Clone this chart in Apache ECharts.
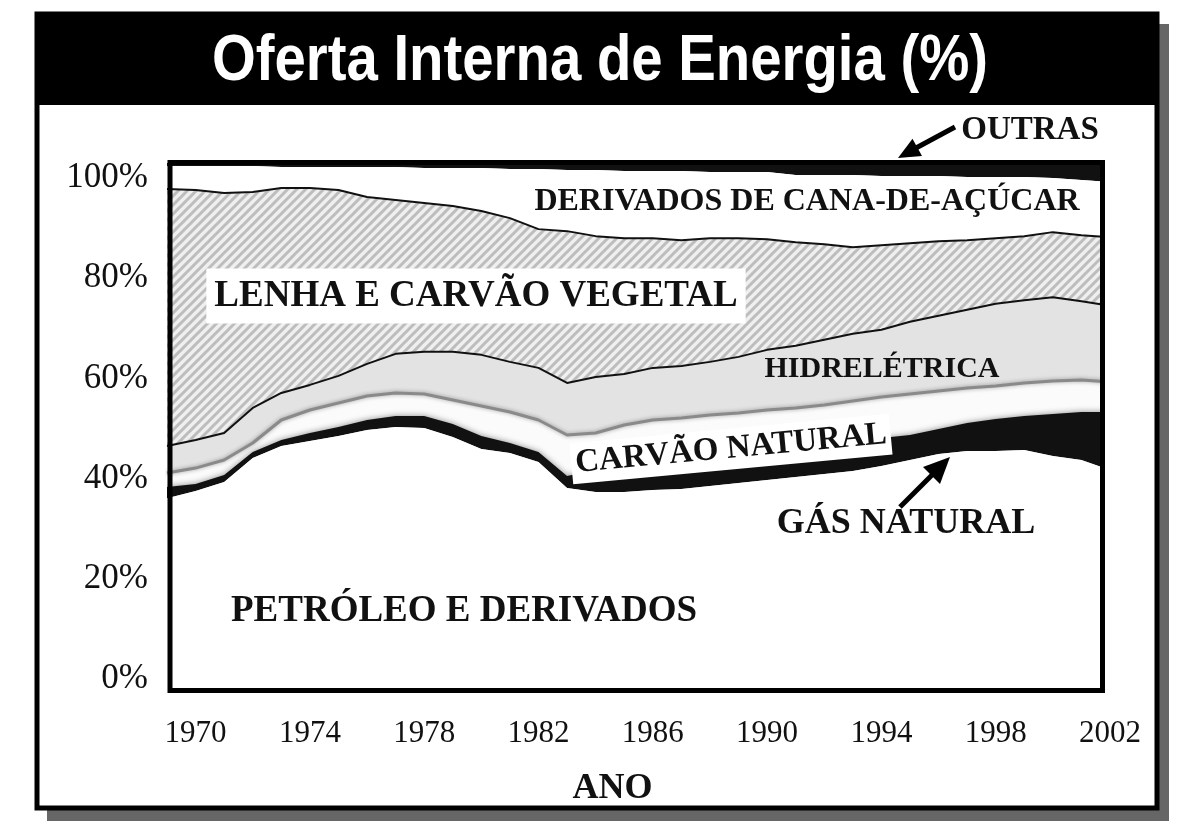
<!DOCTYPE html>
<html>
<head>
<meta charset="utf-8">
<script src="https://cdn.jsdelivr.net/npm/echarts@6/dist/echarts.min.js"></script>
<style>
  html, body { margin: 0; padding: 0; background: #fff; }
  #chart { width: 1200px; height: 827px; }
</style>
</head>
<body>
<div id="chart"></div>
<script>
// anos (eixo x)
var years = ['1969', '1970', '1971', '1972', '1973', '1974', '1975', '1976', '1977', '1978',
  '1979', '1980', '1981', '1982', '1983', '1984', '1985', '1986', '1987', '1988',
  '1989', '1990', '1991', '1992', '1993', '1994', '1995', '1996', '1997', '1998',
  '1999', '2000', '2001', '2002'];
var yTicks = [0, 20, 40, 60, 80, 100];

// participação de cada fonte (%), empilhadas de baixo para cima
var petroleo = [36.1, 37.5, 39.3, 44.1, 46.5, 47.5, 48.5, 49.7, 50.3, 50.1, 48.3, 45.9, 45.1, 43.3, 38.1, 37.3, 37.3,
  37.7, 37.9, 38.5, 39.1, 39.7, 40.3, 40.9, 41.5, 42.5, 43.7, 44.9, 45.5, 45.5, 45.7, 44.5, 43.7, 41.7];
var gasNatural = [2.2, 1.4, 1.4, 1.2, 1.2, 1.6, 1.8, 2.0, 2.2, 2.4, 2.6, 2.6, 2.0, 2.0, 2.4, 4.4, 5.2,
  5.6, 6.0, 6.0, 6.0, 6.0, 6.0, 6.0, 6.0, 5.6, 5.0, 5.0, 5.6, 6.4, 6.8, 8.4, 9.6, 11.6];
var carvaoNatural = [2.8, 3.2, 3.0, 1.8, 4.0, 4.6, 4.8, 4.8, 4.6, 4.4, 4.8, 6.0, 6.2, 6.4, 8.2, 7.4, 8.2,
  8.4, 8.2, 8.2, 8.0, 8.0, 7.8, 7.8, 8.0, 8.2, 8.2, 7.6, 7.0, 6.6, 6.6, 6.6, 6.4, 6.0];
var hidreletrica = [5.4, 5.6, 5.4, 7.0, 5.4, 5.0, 5.4, 6.4, 7.8, 8.4, 9.6, 10.2, 10.0, 10.4, 10.4, 11.2, 10.2,
  10.4, 10.4, 10.6, 11.2, 12.0, 12.4, 13.0, 13.4, 13.4, 14.4, 15.0, 15.6, 16.4, 16.5, 16.7, 15.7, 15.2];
var lenha = [51.3, 49.9, 47.9, 43.1, 40.9, 39.3, 37.1, 33.3, 30.7, 29.7, 29.1, 28.7, 28.7, 27.7, 30.3, 28.1, 27.1,
  25.9, 25.1, 24.7, 23.7, 22.1, 20.7, 19.1, 17.3, 16.9, 15.7, 14.9, 13.9, 13.1, 12.8, 13.0, 13.2, 13.7];
var cana = [4.6, 4.8, 5.4, 5.2, 4.2, 4.2, 4.6, 6.0, 6.6, 7.0, 7.6, 8.6, 9.8, 12.0, 12.2, 13.2, 13.4,
  13.4, 13.8, 13.2, 13.2, 13.4, 13.4, 13.8, 14.4, 13.8, 13.4, 13.0, 12.6, 12.2, 11.8, 10.8, 11.0, 11.0];
var outras = [1.2, 1.2, 1.2, 1.2, 1.2, 1.2, 1.2, 1.4, 1.4, 1.4, 1.4, 1.4, 1.6, 1.6, 2.0, 2.0, 2.0,
  2.0, 2.0, 2.2, 2.2, 2.2, 2.8, 2.8, 2.8, 3.0, 3.0, 3.0, 3.2, 3.2, 3.2, 3.4, 3.8, 4.2];

var serif = '"Liberation Serif", "Times New Roman", serif';

// textura hachurada da lenha
function hatch() {
  var n = 9;
  var c = document.createElement('canvas');
  c.width = n; c.height = n;
  var g = c.getContext('2d');
  g.fillStyle = '#efefef';
  g.fillRect(0, 0, n, n);
  g.strokeStyle = '#bdbdbd';
  g.lineWidth = 3;
  g.beginPath();
  g.moveTo(0, n); g.lineTo(n, 0);
  g.moveTo(-2, 2); g.lineTo(2, -2);
  g.moveTo(n - 2, n + 2); g.lineTo(n + 2, n - 2);
  g.stroke();
  return c;
}

function layer(name, data, fill, line, z, area) {
  var areaStyle = {color: fill, opacity: 1};
  for (var k in (area || {})) areaStyle[k] = area[k];
  return {
    name: name,
    type: 'line',
    stack: 'oferta',
    data: data,
    symbol: 'none',
    z: z,
    silent: true,
    lineStyle: line,
    areaStyle: areaStyle,
    emphasis: {disabled: true}
  };
}

function label(text, x, y, size, extra) {
  var style = {
    text: text, x: 0, y: 0, fill: '#111',
    font: 'bold ' + size + 'px ' + serif,
    align: 'center', verticalAlign: 'middle'
  };
  for (var k in (extra || {})) style[k] = extra[k];
  return {type: 'text', x: x, y: y, z: 110, style: style};
}

var chart = echarts.init(document.getElementById('chart'));
chart.setOption({
  animation: false,
  backgroundColor: '#fff',
  grid: {left: 167, right: 90, top: 163, bottom: 137, containLabel: false, outerBoundsMode: 'none'},
  xAxis: {
    type: 'category',
    z: 50,
    data: years,
    boundaryGap: false,
    name: 'ANO',
    nameLocation: 'middle',
    nameGap: 81,
    nameTextStyle: {fontFamily: serif, fontWeight: 'bold', fontSize: 36, color: '#111', padding: [0, 52, 0, 0]},
    axisLine: {show: false},
    axisTick: {show: false},
    axisLabel: {
      interval: function (i, v) { return (+v - 1970) % 4 === 0; },
      fontFamily: serif, fontSize: 31, color: '#111', margin: 28
    },
    splitLine: {show: false}
  },
  yAxis: {
    type: 'value',
    z: 50,
    min: -2.2,
    max: 103,
    axisLine: {show: false},
    axisTick: {show: false},
    splitLine: {show: false},
    axisLabel: {
      customValues: yTicks,
      formatter: '{value}%',
      fontFamily: serif, fontSize: 35, color: '#111', margin: 19
    }
  },
  series: [
    layer('Petróleo e derivados', petroleo, '#ffffff', {width: 0}, 9),
    layer('Gás natural', gasNatural, '#111111', {width: 0}, 8,
      {shadowBlur: 6, shadowColor: 'rgba(0,0,0,0.45)'}),
    layer('Carvão natural', carvaoNatural, '#fbfbfb',
      {color: '#8a8a8a', width: 3, shadowBlur: 4, shadowColor: 'rgba(0,0,0,0.35)'}, 7),
    layer('Hidrelétrica', hidreletrica, '#e3e3e3', {color: '#111', width: 2}, 6),
    layer('Lenha e carvão vegetal', lenha, {image: hatch(), repeat: 'repeat'}, {color: '#111', width: 2}, 5),
    layer('Derivados de cana-de-açúcar', cana, '#ffffff', {width: 0}, 4),
    layer('Outras', outras, '#111111', {width: 0}, 3)
  ],
  graphic: [
    // sombra e moldura externa
    {type: 'rect', z: -2, shape: {x: 47, y: 24, width: 1122, height: 797}, style: {fill: '#666'}},
    {type: 'rect', z: -1, shape: {x: 37, y: 14, width: 1120, height: 794}, style: {fill: '#fff'}},
    {type: 'rect', z: 100, shape: {x: 37, y: 14, width: 1120, height: 794},
      style: {fill: null, stroke: '#000', lineWidth: 5}},
    {type: 'rect', z: 100, shape: {x: 35, y: 12, width: 1124, height: 93}, style: {fill: '#000'}},
    {type: 'text', z: 110, x: 600, y: 62, scaleX: 0.88,
      style: {text: 'Oferta Interna de Energia (%)', fill: '#fff', font: 'bold 64px "Liberation Sans", Arial, sans-serif',
        align: 'center', verticalAlign: 'middle'}},
    // máscara à direita e moldura do gráfico
    {type: 'rect', z: 100, shape: {x: 1103, y: 150, width: 12, height: 548}, style: {fill: '#fff'}},
    {type: 'rect', z: 101, shape: {x: 170, y: 162.5, width: 932.5, height: 528},
      style: {fill: null, stroke: '#000', lineWidth: 5}},
    // rótulos das áreas
    label('DERIVADOS DE CANA-DE-AÇÚCAR', 807, 202, 32),
    label('LENHA E CARVÃO VEGETAL', 476, 296, 37, {backgroundColor: '#fff', padding: [9, 8, 9, 8]}),
    label('HIDRELÉTRICA', 882, 369, 30),
    {type: 'text', x: 731, y: 449, rotation: 0.093, z: 110,
      style: {text: 'CARVÃO NATURAL', x: 0, y: 0, fill: '#111', font: 'bold 33px ' + serif,
        align: 'center', verticalAlign: 'middle', backgroundColor: '#fff', padding: [2, 4, 6, 4]}},
    label('GÁS NATURAL', 906, 524, 36),
    label('PETRÓLEO E DERIVADOS', 464, 611, 37),
    label('OUTRAS', 1030, 130, 33),
    // setas
    {type: 'line', z: 110, shape: {x1: 955, y1: 127, x2: 916, y2: 148}, style: {stroke: '#000', lineWidth: 5}},
    {type: 'polygon', z: 110, shape: {points: [[898, 158], [922, 156], [912.5, 138.7]]}, style: {fill: '#000'}},
    {type: 'line', z: 110, shape: {x1: 900, y1: 507, x2: 933, y2: 474}, style: {stroke: '#000', lineWidth: 5}},
    {type: 'polygon', z: 110, shape: {points: [[950, 457], [940, 484], [923, 467]]}, style: {fill: '#000'}}
  ]
});
</script>
</body>
</html>
